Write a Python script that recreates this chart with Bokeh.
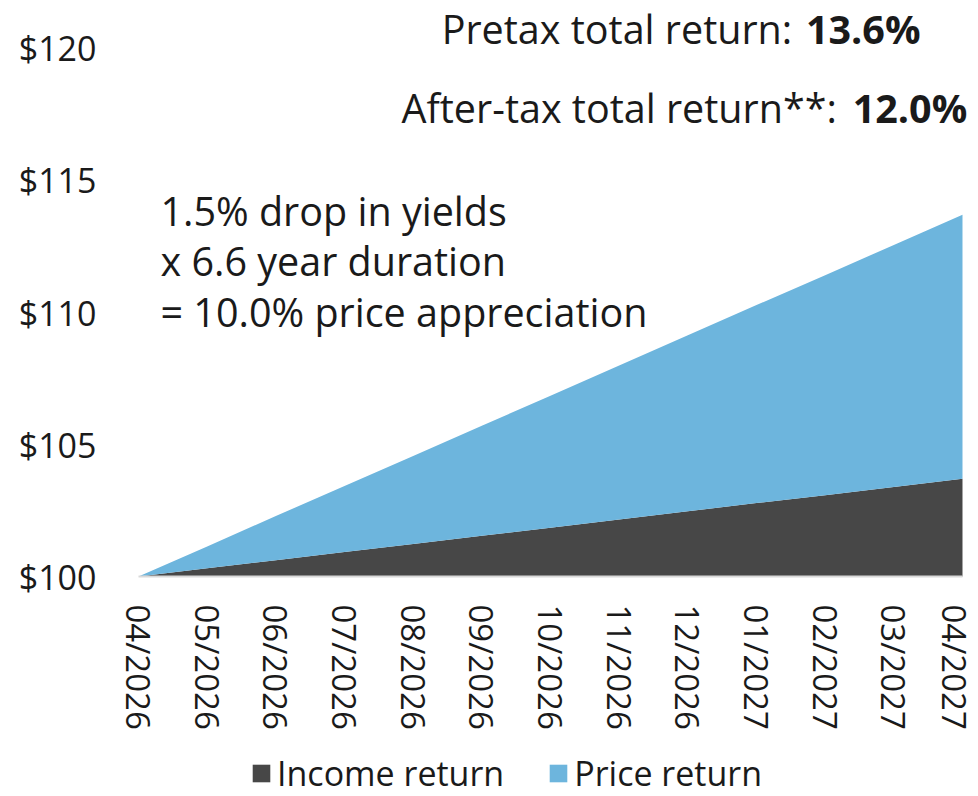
from bokeh.plotting import figure
from bokeh.models import ColumnDataSource, FixedTicker, Legend, LegendItem, Label, Range1d
from bokeh.embed import file_html
from bokeh.resources import INLINE

months = ["04/2026", "05/2026", "06/2026", "07/2026", "08/2026", "09/2026", "10/2026",
          "11/2026", "12/2026", "01/2027", "02/2027", "03/2027", "04/2027"]
income_return = [0.00, 0.31, 0.62, 0.93, 1.23, 1.54, 1.85, 2.16, 2.47, 2.78, 3.08, 3.39, 3.70]
price_return = [0.00, 0.83, 1.67, 2.50, 3.33, 4.17, 5.00, 5.83, 6.67, 7.50, 8.33, 9.17, 10.00]
start_value = 100
y_ticks = [100, 105, 110, 115, 120]
y_tick_labels = ["$100", "$105", "$110", "$115", "$120"]

FONT = "Open Sans"
DARK = "#474747"
BLUE = "#6db5dd"
TXT = "#1a1a1a"

x = list(range(len(months)))
base = [start_value for _ in months]
inc_top = [start_value + v for v in income_return]
tot_top = [start_value + a + b for a, b in zip(income_return, price_return)]
src = ColumnDataSource(dict(x=x, base=base, inc_top=inc_top, tot_top=tot_top))

p = figure(width=976, height=796, output_backend="svg", toolbar_location=None,
           x_range=Range1d(-0.306, 12.204), y_range=Range1d(91.667, 121.818),
           min_border_left=117, min_border_right=0, min_border_top=0, min_border_bottom=0)
p.outline_line_color = None
p.background_fill_color = "white"
p.border_fill_color = "white"
p.xgrid.visible = False
p.ygrid.visible = False

r_inc = p.varea(x="x", y1="base", y2="inc_top", source=src, fill_color=DARK)
r_price = p.varea(x="x", y1="inc_top", y2="tot_top", source=src, fill_color=BLUE)

# axes
p.yaxis.ticker = FixedTicker(ticks=y_ticks)
p.yaxis.major_label_overrides = {t: l for t, l in zip(y_ticks, y_tick_labels)}
p.yaxis.axis_line_color = None
p.yaxis.major_tick_line_color = None
p.yaxis.minor_tick_line_color = None
p.yaxis.major_label_text_font = FONT
p.yaxis.major_label_text_font_size = "34px"
p.yaxis.major_label_text_color = TXT
p.yaxis.major_label_standoff = 15

p.xaxis.fixed_location = start_value
p.xaxis.bounds = (0, len(months) - 1)
p.xaxis.ticker = FixedTicker(ticks=x)
p.xaxis.major_label_overrides = {i: m for i, m in zip(x, months)}
p.xaxis.major_label_orientation = "vertical"
p.xaxis.axis_line_color = "#d9d9d9"
p.xaxis.axis_line_width = 2
p.xaxis.major_tick_line_color = None
p.xaxis.minor_tick_line_color = None
p.xaxis.major_label_text_font = FONT
p.xaxis.major_label_text_font_size = "33px"
p.xaxis.major_label_text_color = TXT
p.xaxis.major_label_standoff = 22

# annotation texts
def lab(xv, yv, text, align="left", bold=False, size="39.5px"):
    p.add_layout(Label(x=xv, y=yv, text=text, text_align=align, text_baseline="middle",
                       text_font=FONT, text_font_size=size, text_color=TXT,
                       text_font_style="bold" if bold else "normal"))

lab(0.32, 113.85, "1.5% drop in yields")
lab(0.32, 111.95, "x 6.6 year duration")
lab(0.32, 110.02, "= 10.0% price appreciation")

pretax = "13.6%"
aftertax = "12.0%"
lab(9.52, 120.75, "Pretax total return:", align="right")
lab(9.72, 120.75, pretax, align="left", bold=True)
lab(10.17, 117.75, "After-tax total return**:", align="right")
lab(10.40, 117.75, aftertax, align="left", bold=True)

legend = Legend(items=[LegendItem(label="Income return", renderers=[r_inc]),
                       LegendItem(label="Price return", renderers=[r_price])],
                orientation="horizontal", location=(133, 0),
                label_text_font=FONT, label_text_font_size="34px", label_text_color=TXT,
                glyph_width=22, glyph_height=22, spacing=43, label_standoff=5,
                border_line_color=None, background_fill_alpha=0, padding=0, margin=0)
p.add_layout(legend, "center")

open("out.html", "w").write(file_html(p, INLINE))
